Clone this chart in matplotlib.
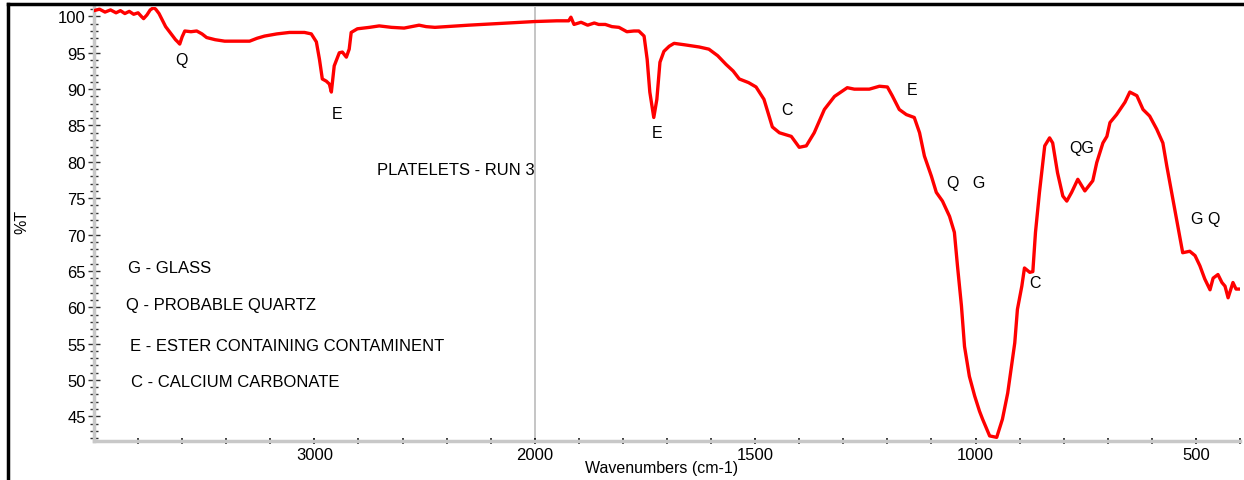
import numpy as np
import matplotlib
matplotlib.use("Agg")
import matplotlib.pyplot as plt
from matplotlib.lines import Line2D
from matplotlib.ticker import FixedLocator

plt.rcParams['font.family'] = ['Liberation Sans', 'DejaVu Sans']

# ---- spectrum data (wavenumber cm-1, %T) ----
wn_a = [4000, 3975, 3950, 3925, 3900, 3880, 3860, 3840, 3820, 3800,
        3785, 3775, 3760, 3745, 3730, 3720, 3705, 3690, 3675, 3660,
        3645, 3630, 3620, 3611, 3600, 3588, 3560, 3534, 3510, 3489]
t_a = [100.8, 101.0, 100.6, 100.9, 100.5, 100.8, 100.4, 100.7, 100.3, 100.5,
       100.0, 99.7, 100.2, 100.9, 101.2, 101.0, 100.4, 99.5, 98.6, 98.0,
       97.4, 96.8, 96.5, 96.2, 97.2, 98.0, 97.9, 98.0, 97.6, 97.1]

wn_b = [3450, 3407, 3350, 3294, 3260, 3226, 3170, 3113, 3080, 3045,
        3014, 2991, 2977, 2964, 2946, 2932, 2923, 2910, 2887, 2873,
        2855, 2842, 2833, 2805, 2750, 2706, 2650, 2593, 2560, 2525,
        2493, 2453, 2300, 2150, 2000]
t_b = [96.8, 96.6, 96.6, 96.6, 97.0, 97.3, 97.6, 97.8, 97.8, 97.8,
       97.6, 96.5, 94.1, 91.4, 91.1, 90.7, 89.6, 93.2, 95.0, 95.1,
       94.4, 95.5, 97.8, 98.3, 98.5, 98.7, 98.5, 98.4, 98.6, 98.8,
       98.6, 98.5, 98.8, 99.05, 99.3]

wn_c = [1950, 1923, 1918, 1911, 1895, 1880, 1865, 1855, 1840, 1825,
        1809, 1791, 1775, 1764, 1752, 1745, 1739, 1730, 1723, 1716,
        1707, 1695, 1684, 1660, 1627, 1605, 1585, 1566, 1550, 1536,
        1515, 1498, 1480, 1461, 1445, 1418, 1400, 1384, 1366, 1343,
        1320, 1291, 1275, 1241, 1218, 1200, 1189, 1173, 1157, 1139]
t_c = [99.4, 99.4, 99.9, 98.9, 99.2, 98.8, 99.1, 98.9, 98.9, 98.6,
       98.5, 97.9, 98.0, 98.0, 97.3, 94.1, 89.6, 86.1, 88.6, 93.7,
       95.2, 95.9, 96.3, 96.1, 95.8, 95.5, 94.6, 93.4, 92.5, 91.4,
       90.9, 90.3, 88.6, 84.8, 84.0, 83.5, 82.0, 82.2, 84.0, 87.2,
       89.0, 90.2, 90.0, 90.0, 90.4, 90.3, 89.1, 87.2, 86.5, 86.1]

wn_d = [1127, 1116, 1100, 1089, 1075, 1059, 1048, 1041, 1032, 1025,
        1014, 1002, 991, 984, 968, 952, 939, 927, 911, 905,
        895, 889, 877, 870, 864, 855, 843, 832, 825, 814,
        802, 793, 782, 768, 752, 734, 725, 711, 702, 695]
t_d = [84.0, 80.8, 78.0, 75.8, 74.6, 72.5, 70.3, 65.7, 60.2, 54.6,
       50.5, 47.8, 45.7, 44.6, 42.3, 42.1, 44.6, 48.2, 55.1, 59.7,
       62.9, 65.4, 64.8, 64.9, 70.3, 75.8, 82.2, 83.3, 82.6, 78.5,
       75.3, 74.6, 75.8, 77.6, 76.0, 77.4, 79.9, 82.6, 83.5, 85.4]

wn_e = [680, 661, 650, 634, 620, 605, 589, 575, 566, 552,
        541, 530, 514, 502, 491, 480, 468, 461, 450, 441,
        434, 427, 416, 409, 400]
t_e = [86.5, 88.2, 89.6, 89.1, 87.2, 86.3, 84.5, 82.6, 79.4, 74.8,
       71.2, 67.5, 67.7, 67.1, 65.7, 63.9, 62.4, 64.0, 64.5, 63.4,
       62.9, 61.3, 63.4, 62.5, 62.5]

wavenumber = np.array(wn_a + wn_b + wn_c + wn_d + wn_e, dtype=float)
transmittance = np.array(t_a + t_b + t_c + t_d + t_e, dtype=float)

# peak annotations: (text, wavenumber, %T)
peak_labels = ["Q", "E", "E", "C", "E", "Q   G", "QG", "C", "G Q"]
peak_wn = [3602, 2896, 1723, 1427, 1143, 1022, 759, 866, 478]
peak_t = [94.1, 86.7, 84.1, 87.2, 90.0, 77.2, 82.0, 63.4, 72.2]

legend_lines = ["G - GLASS", "Q - PROBABLE QUARTZ",
                "E - ESTER CONTAINING CONTAMINENT", "C - CALCIUM CARBONATE"]
legend_wn = [3846, 3855, 3837, 3833]
legend_t = [65.5, 60.4, 54.7, 49.8]

title_text = "PLATELETS - RUN 3"

x_major = [3000, 2000, 1500, 1000, 500]
x_minor = [3800, 3600, 3400, 3200, 2800, 2600, 2400, 2200,
           1900, 1800, 1700, 1600, 1400, 1300, 1200, 1100,
           900, 800, 700, 600, 400]
y_major = list(range(45, 101, 5))
y_minor = list(range(42, 102))


def fwd(w):
    w = np.asarray(w, dtype=float)
    return np.where(w > 2000, 2000 + (w - 2000) / 2.0, w)


def inv(u):
    u = np.asarray(u, dtype=float)
    return np.where(u > 2000, 2000 + (u - 2000) * 2.0, u)


fig = plt.figure(figsize=(12.44, 4.81), dpi=100)
W, H = 1244, 481
ax = fig.add_axes([94 / W, (H - 442) / H, (1240 - 94) / W, (442 - 8) / H])
ax.set_xscale('function', functions=(fwd, inv))
ax.set_xlim(4000, 400)
ax.set_ylim(41.6, 101.3)

ax.axvline(2000, color='#c0c0c0', lw=1.3, zorder=1)
ax.plot(wavenumber, transmittance, color='#ff0000', lw=2.4, zorder=3,
        solid_joinstyle='round')

for s in ['top', 'right']:
    ax.spines[s].set_visible(False)
for s in ['left', 'bottom']:
    ax.spines[s].set_color('#c8c8c8')
    ax.spines[s].set_linewidth(2.5)

ax.xaxis.set_major_locator(FixedLocator(x_major))
ax.xaxis.set_minor_locator(FixedLocator(x_minor))
ax.set_xticklabels([str(v) for v in x_major])
ax.yaxis.set_major_locator(FixedLocator(y_major))
ax.yaxis.set_minor_locator(FixedLocator(y_minor))
ax.set_yticklabels([str(v) for v in y_major])

ax.tick_params(axis='y', which='major', direction='inout', length=8, width=1,
               color='#333333', labelsize=12, pad=2)
ax.tick_params(axis='y', which='minor', direction='inout', length=6, width=1,
               color='#333333')
ax.tick_params(axis='x', which='major', direction='inout', length=5, width=1.4,
               color='#222222', labelsize=12, pad=2)
ax.tick_params(axis='x', which='minor', direction='inout', length=4, width=1.2,
               color='#222222')

ax.set_xlabel("Wavenumbers (cm-1)", fontsize=11.5)
ax.xaxis.set_label_coords(0.495, -0.043)
ax.xaxis.label.set_va('top')
fig.text(22 / W, (H - 222) / H, "%T", rotation=90, fontsize=11.5,
         ha='center', va='center')

for txt, w, t in zip(peak_labels, peak_wn, peak_t):
    ax.text(w, t, txt, fontsize=11.5, ha='center', va='center', zorder=4)

for txt, w, t in zip(legend_lines, legend_wn, legend_t):
    ax.text(w, t, txt, fontsize=12, ha='left', va='center', zorder=4)

ax.text(2715, 79.0, title_text, fontsize=12, ha='left', va='center', zorder=4)

# outer frame (top and left edges)
fig.add_artist(Line2D([8 / W, 1.0], [(H - 5) / H, (H - 5) / H], color='black',
                      lw=2.5, transform=fig.transFigure))
fig.add_artist(Line2D([8 / W, 8 / W], [0, (H - 5) / H], color='black',
                      lw=2.5, transform=fig.transFigure))

fig.savefig("out.png", dpi=100)
